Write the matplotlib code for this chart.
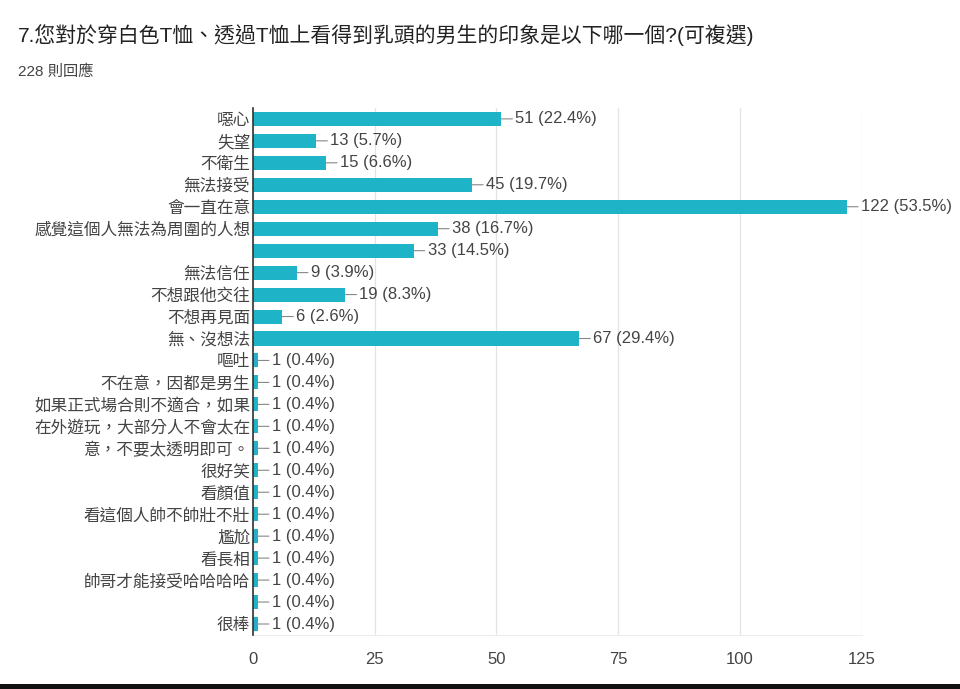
import matplotlib.pyplot as plt
from matplotlib.patches import Rectangle

plt.rcParams['font.family'] = ['Liberation Sans', 'Noto Sans CJK TC', 'DejaVu Sans']

title = '7.您對於穿白色T恤、透過T恤上看得到乳頭的男生的印象是以下哪一個?(可複選)'
subtitle = '228 則回應'
total = 228

labels = ['噁心', '失望', '不衛生', '無法接受', '會一直在意', '感覺這個人無法為周圍的人想', '',
          '無法信任', '不想跟他交往', '不想再見面', '無、沒想法', '嘔吐', '不在意，因都是男生',
          '如果正式場合則不適合，如果', '在外遊玩，大部分人不會太在', '意，不要太透明即可。',
          '很好笑', '看顏值', '看這個人帥不帥壯不壯', '尷尬', '看長相', '帥哥才能接受哈哈哈哈', '', '很棒']
counts = [51, 13, 15, 45, 122, 38, 33, 9, 19, 6, 67, 1, 1, 1, 1, 1, 1, 1, 1, 1, 1, 1, 1, 1]
xticks = [0, 25, 50, 75, 100, 125]

bar_color = '#1fb3c8'
text_color = '#444444'

fig = plt.figure(figsize=(9.6, 6.89), dpi=100)
ax = fig.add_axes([0.2635, 0.0784, 0.634, 0.765])

pos = list(range(len(counts)))
ax.barh(pos, counts, height=0.64, color=bar_color, zorder=3)

# value labels with a short leader line
for y, c in zip(pos, counts):
    ax.annotate(f'{c} ({c / total * 100:.1f}%)', xy=(c, y), xytext=(10, 0),
                textcoords='offset points', ha='left', va='center',
                fontsize=12, color=text_color,
                arrowprops=dict(arrowstyle='-', color='#888888', lw=0.8,
                                shrinkA=0, shrinkB=0))

ax.set_xlim(0, 125)
ax.set_ylim(len(counts) - 0.5, -0.5)
ax.set_xticks(xticks)
ax.set_yticks(pos)
ax.set_yticklabels(labels)
ax.tick_params(axis='both', length=0, labelsize=12, colors=text_color)
ax.tick_params(axis='x', pad=12)
ax.tick_params(axis='y', pad=2)

ax.grid(axis='x', color='#e3e3e3', lw=0.9, zorder=0)
for s in ['top', 'right']:
    ax.spines[s].set_visible(False)
ax.spines['bottom'].set_color('#ededed')
ax.spines['left'].set_color('#333333')
ax.spines['left'].set_linewidth(1.2)
ax.spines['left'].set_zorder(4)

fig.text(18 / 960, 1 - 35 / 689, title, fontsize=15, color='#222222', va='center', ha='left')
fig.text(18 / 960, 1 - 72 / 689, subtitle, fontsize=11, color=text_color, va='center', ha='left')

# dark border along the bottom edge of the screenshot
fig.add_artist(Rectangle((0, 0), 1, 5 / 689, transform=fig.transFigure,
                         color='#111111', lw=0))

fig.savefig('out.png', dpi=100)
